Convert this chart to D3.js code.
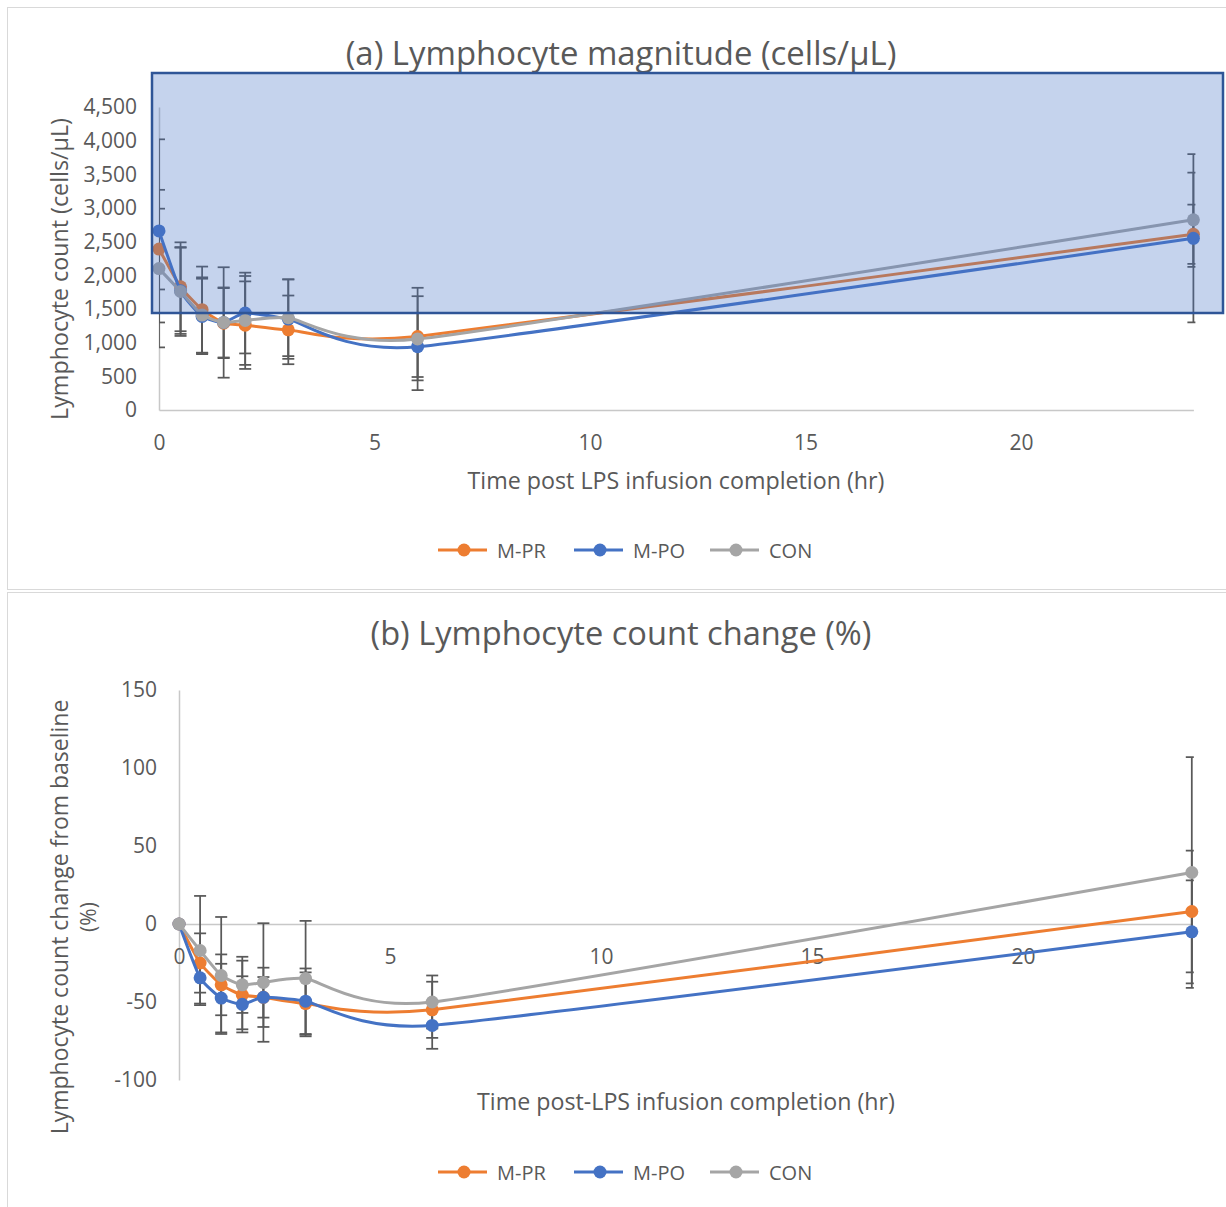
<!DOCTYPE html>
<html>
<head>
<meta charset="utf-8">
<script src="https://cdn.jsdelivr.net/npm/d3@7"></script>
<style>
  body { margin: 0; background: #fff; }
  text { font-family: "Open Sans", sans-serif; fill: #595959; }
</style>
</head>
<body>
<div id="chart"></div>
<script>
// sampling times (hr)
const times = [0, 0.5, 1, 1.5, 2, 3, 6, 24];
const seriesNames = ["M-PR", "M-PO", "CON"];
const seriesColors = ["#ED7D31", "#4472C4", "#A5A5A5"];

// (a) lymphocyte count, cells/uL, mean and error
const countPR = [2390, 1830, 1490, 1290, 1260, 1190, 1090, 2610];
const countPO = [2660, 1770, 1390, 1300, 1440, 1350, 940, 2550];
const countCON = [2100, 1760, 1410, 1300, 1330, 1370, 1055, 2825];
const countErrPR = [600, 660, 640, 520, 650, 510, 600, 440];
const countErrPO = [1360, 640, 560, 820, 600, 590, 500, 1250];
const countErrCON = [1170, 660, 560, 520, 660, 570, 760, 700];

// (b) change from baseline, %
const changePR = [0, -25, -39, -45.5, -47, -51, -55, 8];
const changePO = [0, -34.5, -47.5, -51.5, -47, -49.5, -65, -5];
const changeCON = [0, -17, -33, -39, -37.5, -35, -50, 33];
const changeErrPR = [0, 19, 19.5, 22, 13, 20, 18, 39];
const changeErrPO = [0, 16.5, 22, 18, 19, 21, 15, 33];
const changeErrCON = [0, 35, 37.5, 18, 38, 37, 17, 74];

const xTicks = [0, 5, 10, 15, 20];
const countTicks = [0, 500, 1000, 1500, 2000, 2500, 3000, 3500, 4000, 4500];
const changeTicks = [-100, -50, 0, 50, 100, 150];

const svg = d3.select("#chart")
    .append("svg")
    .attr("width", 1226)
    .attr("height", 1207);

const defs = svg.append("defs");

// chart area frames
svg.append("rect")
    .attr("x", 7.5).attr("y", 7.5)
    .attr("width", 1240).attr("height", 582)
    .attr("fill", "none").attr("stroke", "#d9d9d9");
svg.append("rect")
    .attr("x", 7.5).attr("y", 592.5)
    .attr("width", 1240).attr("height", 640)
    .attr("fill", "none").attr("stroke", "#d9d9d9");

function fitWidth(text, target) {
    const w = text.node().getComputedTextLength();
    const s = parseFloat(text.style("font-size"));
    text.style("font-size", (s * target / w) + "px");
}

function drawPanel(p) {
    const g = svg.append("g");
    const x = d3.scaleLinear().domain([0, 24]).range(p.xRange);
    const y = d3.scaleLinear().domain(p.yDomain).range(p.yRange);

    const title = g.append("text")
        .attr("x", p.titleX).attr("y", p.titleY)
        .attr("text-anchor", "middle")
        .style("font-size", "29px")
        .text(p.title);
    fitWidth(title, p.titleW);

    // y axis
    const yAxis = g.append("g")
        .attr("transform", `translate(${x(0)},0)`)
        .call(d3.axisLeft(y).tickValues(p.yTicks).tickSize(0).tickPadding(22)
            .tickFormat(p.yFormat));
    yAxis.select(".domain").attr("stroke", "#c8c8c8").attr("stroke-width", 1.5);
    yAxis.selectAll("text").style("font-size", "21px").attr("fill", "#595959");

    // x axis
    const xAxis = g.append("g")
        .attr("transform", `translate(0,${y(p.xAxisAt)})`)
        .call(d3.axisBottom(x).tickValues(xTicks).tickSize(0).tickPadding(25));
    xAxis.select(".domain").attr("stroke", "#c8c8c8").attr("stroke-width", 1.5);
    xAxis.selectAll("text").style("font-size", "21px").attr("fill", "#595959");

    const xt = g.append("text")
        .attr("x", p.xTitleX).attr("y", p.xTitleY)
        .attr("text-anchor", "middle")
        .style("font-size", "22px")
        .text(p.xTitle);
    fitWidth(xt, p.xTitleW);

    p.yTitle.forEach((line, i) => {
        const t = g.append("text")
            .attr("transform", `translate(${p.yTitleX[i]},${p.yTitleY}) rotate(-90)`)
            .attr("text-anchor", "middle")
            .style("font-size", "22px")
            .text(line);
        if (i === 0) fitWidth(t, p.yTitleW);
        else t.style("font-size", g.select("text:last-of-type").style("font-size"));
    });

    // error bars are clipped by the plot area
    const clipId = "clip" + p.id;
    defs.append("clipPath").attr("id", clipId)
        .append("rect")
        .attr("x", x(0)).attr("y", 0)
        .attr("width", x(24) - x(0) + 2).attr("height", 1207);

    const bars = g.append("g").attr("clip-path", `url(#${clipId})`);
    p.values.forEach((vals, si) => {
        const errs = p.errors[si];
        const eb = bars.append("g")
            .attr("stroke", "#595959")
            .attr("stroke-width", 1.75)
            .selectAll("g")
            .data(times.map((t, i) => ({t: t, v: vals[i], e: errs[i]})).filter(d => d.e > 0))
            .enter()
            .append("g");
        eb.append("line")
            .attr("x1", d => x(d.t)).attr("x2", d => x(d.t))
            .attr("y1", d => y(d.v + d.e)).attr("y2", d => y(d.v - d.e));
        eb.append("line")
            .attr("x1", d => x(d.t) - 6).attr("x2", d => x(d.t) + 6)
            .attr("y1", d => y(d.v + d.e)).attr("y2", d => y(d.v + d.e));
        eb.append("line")
            .attr("x1", d => x(d.t) - 6).attr("x2", d => x(d.t) + 6)
            .attr("y1", d => y(d.v - d.e)).attr("y2", d => y(d.v - d.e));
    });

    // smoothed lines, close to Excel's smoothing
    const line = d3.line()
        .x(d => x(d[0]))
        .y(d => y(d[1]))
        .curve(d3.curveCardinal.tension(0.5));

    p.values.forEach((vals, si) => {
        const pts = times.map((t, i) => [t, vals[i]]);
        g.append("path")
            .datum(pts)
            .attr("d", line)
            .attr("fill", "none")
            .attr("stroke", seriesColors[si])
            .attr("stroke-width", 3)
            .attr("stroke-linejoin", "round");
        g.append("g").selectAll("circle")
            .data(pts)
            .enter()
            .append("circle")
            .attr("cx", d => x(d[0]))
            .attr("cy", d => y(d[1]))
            .attr("r", 6.5)
            .attr("fill", seriesColors[si]);
    });

    // legend
    const legend = g.append("g")
        .attr("transform", `translate(438,${p.legendY})`);
    const items = legend.selectAll("g")
        .data(seriesNames)
        .enter()
        .append("g")
        .attr("transform", (d, i) => `translate(${i * 136},0)`);
    items.append("line")
        .attr("x1", 0).attr("x2", 49)
        .attr("stroke", (d, i) => seriesColors[i])
        .attr("stroke-width", 3);
    items.append("circle")
        .attr("cx", 26).attr("r", 6.5)
        .attr("fill", (d, i) => seriesColors[i]);
    items.append("text")
        .attr("x", 59).attr("y", 7.5)
        .style("font-size", "20px")
        .text(d => d);

    return {x, y};
}

drawPanel({
    id: "a",
    title: "(a) Lymphocyte magnitude (cells/\u03bcL)",
    titleX: 621, titleY: 65, titleW: 551,
    xRange: [159, 159 + 24 * 43.1],
    yDomain: [0, 4500], yRange: [410, 107],
    yTicks: countTicks,
    yFormat: d3.format(","),
    xAxisAt: 0,
    xTitle: "Time post LPS infusion completion (hr)",
    xTitleX: 676, xTitleY: 489, xTitleW: 417,
    yTitle: ["Lymphocyte count (cells/\u03bcL)"],
    yTitleX: [68], yTitleY: 269, yTitleW: 302,
    values: [countPR, countPO, countCON],
    errors: [countErrPR, countErrPO, countErrCON],
    legendY: 550
});

// highlighted region drawn over panel (a)
svg.append("rect")
    .attr("x", 152).attr("y", 73)
    .attr("width", 1071).attr("height", 240)
    .attr("fill", "rgba(68,114,196,0.31)")
    .attr("stroke", "#2F5597")
    .attr("stroke-width", 2.5);

drawPanel({
    id: "b",
    title: "(b) Lymphocyte count change (%)",
    titleX: 621, titleY: 645, titleW: 501,
    xRange: [179, 179 + 24 * 42.2],
    yDomain: [-100, 150], yRange: [1080, 690],
    yTicks: changeTicks,
    yFormat: d => String(d),
    xAxisAt: 0,
    xTitle: "Time post-LPS infusion completion (hr)",
    xTitleX: 686, xTitleY: 1110, xTitleW: 418,
    yTitle: ["Lymphocyte count change from baseline", "(%)"],
    yTitleX: [68, 96], yTitleY: 917, yTitleW: 435,
    values: [changePR, changePO, changeCON],
    errors: [changeErrPR, changeErrPO, changeErrCON],
    legendY: 1172
});
</script>
</body>
</html>
